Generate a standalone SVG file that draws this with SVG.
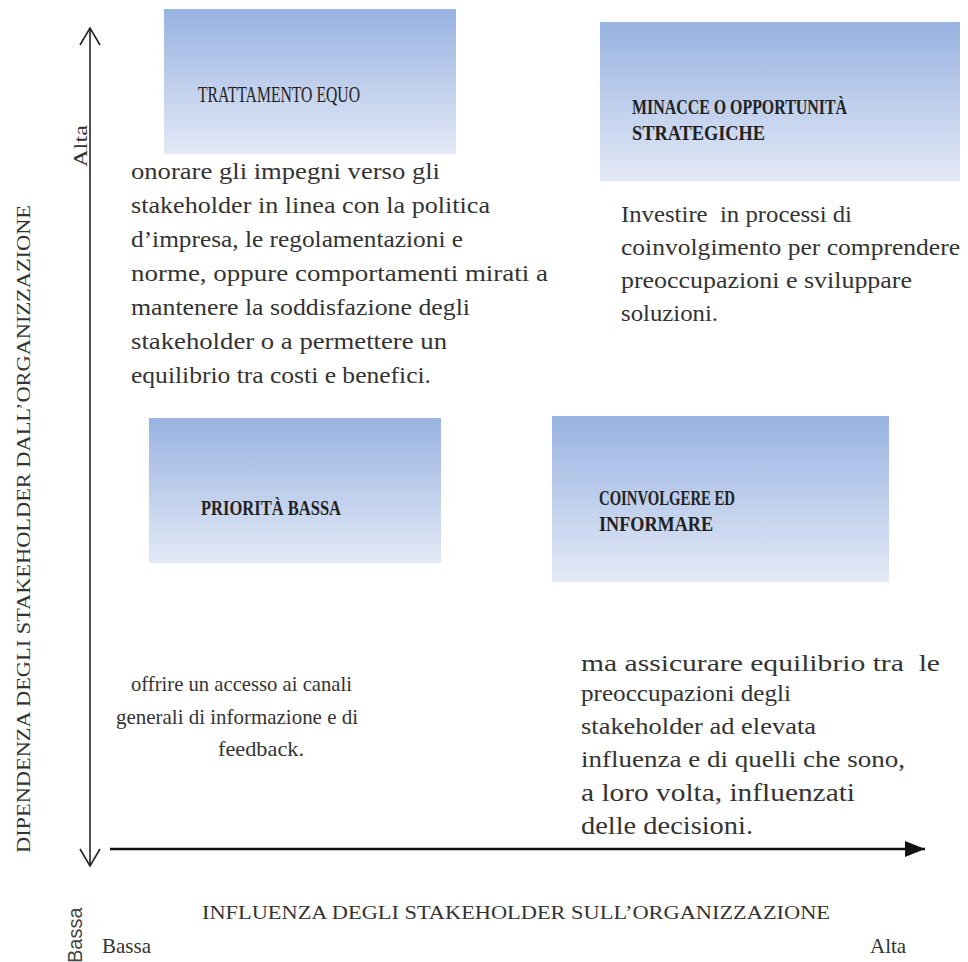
<svg xmlns="http://www.w3.org/2000/svg" width="968" height="962" viewBox="0 0 968 962">
  <defs>
    <linearGradient id="boxFill" x1="0" y1="0" x2="0" y2="1">
      <stop offset="0" stop-color="#98B3E1"/>
      <stop offset="1" stop-color="#E3E9F6"/>
    </linearGradient>
    <marker id="solidHead" viewBox="0 0 20 16" refX="20" refY="8" markerWidth="20" markerHeight="16" markerUnits="userSpaceOnUse" orient="auto">
      <path d="M0,0 L20,8 L0,16 Z" fill="#111"/>
    </marker>
  </defs>
  <style>
    .box { fill: url(#boxFill); }
    text { font-family: "Liberation Serif", serif; fill: #333; }
    .title { fill: #222; }
    .sans { font-family: "Liberation Sans", sans-serif; fill: #444; }
  </style>

  <rect width="968" height="962" fill="#fff"/>

  <!-- axes -->
  <g id="connectors">
    <line x1="90" y1="30" x2="90" y2="864" stroke="#222" stroke-width="1.6"/>
    <path d="M80,45 L90,28 L100,45" fill="none" stroke="#222" stroke-width="1.6"/>
    <path d="M80,849 L90,866 L100,849" fill="none" stroke="#222" stroke-width="1.6"/>
    <line x1="110" y1="849" x2="925" y2="849" stroke="#111" stroke-width="2.6" marker-end="url(#solidHead)"/>
  </g>

  <!-- axis labels -->
  <g id="axis-labels" font-size="19">
    <text transform="translate(30,853) rotate(-90)" textLength="648" lengthAdjust="spacingAndGlyphs">DIPENDENZA DEGLI STAKEHOLDER DALL’ORGANIZZAZIONE</text>
    <text transform="translate(87,167) rotate(-90)" textLength="42" lengthAdjust="spacingAndGlyphs">Alta</text>
    <text class="sans" font-size="20" transform="translate(82,963) rotate(-90)">Bassa</text>
    <text x="202" y="919" textLength="628" lengthAdjust="spacingAndGlyphs">INFLUENZA DEGLI STAKEHOLDER SULL’ORGANIZZAZIONE</text>
    <text x="102" y="953" font-size="21">Bassa</text>
    <text x="870" y="953" font-size="21">Alta</text>
  </g>

  <!-- quadrant: high dependence, low influence -->
  <g id="trattamento-equo">
    <rect class="box" x="164" y="9" width="292" height="145"/>
    <text class="title" font-size="23" x="198" y="102" textLength="162" lengthAdjust="spacingAndGlyphs">TRATTAMENTO EQUO</text>
  </g>
  <g id="trattamento-equo-desc" font-size="24">
    <text x="131" y="179" textLength="309" lengthAdjust="spacingAndGlyphs">onorare gli impegni verso gli</text>
    <text x="131" y="213" textLength="359" lengthAdjust="spacingAndGlyphs">stakeholder in linea con la politica</text>
    <text x="131" y="247" textLength="332" lengthAdjust="spacingAndGlyphs">d’impresa, le regolamentazioni e</text>
    <text x="131" y="281" textLength="417" lengthAdjust="spacingAndGlyphs">norme, oppure comportamenti mirati a</text>
    <text x="131" y="315" textLength="339" lengthAdjust="spacingAndGlyphs">mantenere la soddisfazione degli</text>
    <text x="131" y="349" textLength="316" lengthAdjust="spacingAndGlyphs">stakeholder o a permettere un</text>
    <text x="131" y="383" textLength="300" lengthAdjust="spacingAndGlyphs">equilibrio tra costi e benefici.</text>
  </g>

  <!-- quadrant: high dependence, high influence -->
  <g id="minacce-opportunita">
    <rect class="box" x="600" y="22" width="360" height="159"/>
    <text class="title" font-size="22" font-weight="bold" x="632" y="114" textLength="215" lengthAdjust="spacingAndGlyphs">MINACCE O OPPORTUNITÀ</text>
    <text class="title" font-size="22" font-weight="bold" x="632" y="140" textLength="133" lengthAdjust="spacingAndGlyphs">STRATEGICHE</text>
  </g>
  <g id="minacce-opportunita-desc" font-size="24">
    <text x="621" y="222" xml:space="preserve" textLength="231" lengthAdjust="spacingAndGlyphs">Investire  in processi di</text>
    <text x="621" y="255" textLength="339" lengthAdjust="spacingAndGlyphs">coinvolgimento per comprendere</text>
    <text x="621" y="288" textLength="291" lengthAdjust="spacingAndGlyphs">preoccupazioni e sviluppare</text>
    <text x="621" y="321" textLength="97" lengthAdjust="spacingAndGlyphs">soluzioni.</text>
  </g>

  <!-- quadrant: low dependence, low influence -->
  <g id="priorita-bassa">
    <rect class="box" x="149" y="418" width="292" height="145"/>
    <text class="title" font-size="22" font-weight="bold" x="201" y="515" textLength="140" lengthAdjust="spacingAndGlyphs">PRIORITÀ BASSA</text>
  </g>
  <g id="priorita-bassa-desc" font-size="21">
    <text x="131" y="691" textLength="221" lengthAdjust="spacingAndGlyphs">offrire un accesso ai canali</text>
    <text x="116" y="724" textLength="242" lengthAdjust="spacingAndGlyphs">generali di informazione e di</text>
    <text x="218" y="756" textLength="86" lengthAdjust="spacingAndGlyphs">feedback.</text>
  </g>

  <!-- quadrant: low dependence, high influence -->
  <g id="coinvolgere-informare">
    <rect class="box" x="552" y="416" width="337" height="166"/>
    <text class="title" font-size="22" font-weight="bold" x="599" y="505" textLength="136" lengthAdjust="spacingAndGlyphs">COINVOLGERE ED</text>
    <text class="title" font-size="22" font-weight="bold" x="599" y="531" textLength="114" lengthAdjust="spacingAndGlyphs">INFORMARE</text>
  </g>
  <g id="coinvolgere-informare-desc" font-size="24">
    <text x="581" y="671" xml:space="preserve" textLength="359" lengthAdjust="spacingAndGlyphs">ma assicurare equilibrio tra  le</text>
    <text x="581" y="701" textLength="210" lengthAdjust="spacingAndGlyphs">preoccupazioni degli</text>
    <text x="581" y="734" textLength="235" lengthAdjust="spacingAndGlyphs">stakeholder ad elevata</text>
    <text x="581" y="767" textLength="324" lengthAdjust="spacingAndGlyphs">influenza e di quelli che sono,</text>
    <text x="581" y="801" font-size="25" textLength="274" lengthAdjust="spacingAndGlyphs">a loro volta, influenzati</text>
    <text x="581" y="834" font-size="25" textLength="172" lengthAdjust="spacingAndGlyphs">delle decisioni.</text>
  </g>
</svg>
